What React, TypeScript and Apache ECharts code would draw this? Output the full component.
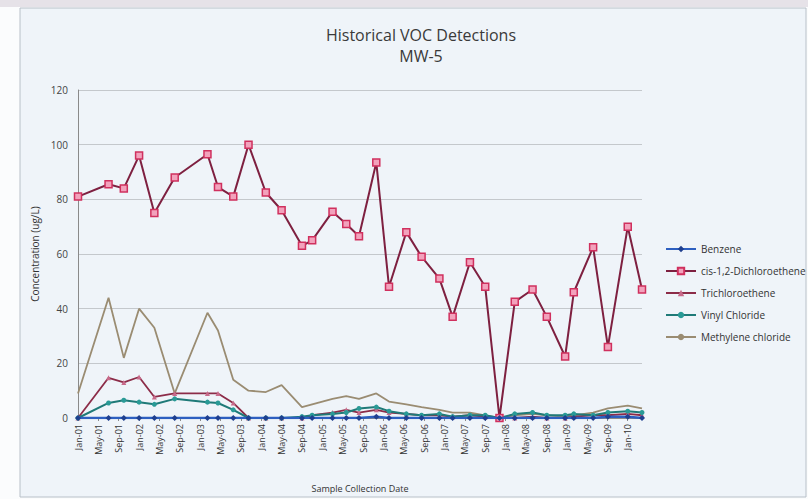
import React, { useEffect, useRef } from "react";
import * as echarts from "echarts";

const sampleDates = [
  "2001-01-15", "2001-07-15", "2001-10-15", "2002-01-15", "2002-04-15",
  "2002-08-15", "2003-02-28", "2003-04-30", "2003-07-30", "2003-10-30",
  "2004-02-12", "2004-05-15", "2004-09-15", "2004-11-15", "2005-03-15",
  "2005-06-06", "2005-08-21", "2005-12-03", "2006-02-18", "2006-05-30",
  "2006-08-30", "2006-12-15", "2007-03-03", "2007-06-15", "2007-09-15",
  "2007-12-09", "2008-03-09", "2008-06-24", "2008-09-18", "2009-01-06",
  "2009-02-27", "2009-06-21", "2009-09-18", "2010-01-15", "2010-04-09",
];

const benzene = [
  0, 0, 0, 0, 0, 0, 0, 0, 0, 0, 0, 0, 0, 0, 0, 0, 0, 0.5, 0, 0,
  0, 0, 0, 0, 0, 0, 0, 0, 0, 0, 0, 0, 0.5, 0.5, 0,
];
const cisDCE = [
  81, 85.5, 84, 96, 75, 88, 96.5, 84.5, 81, 100, 82.5, 76, 63, 65, 75.5,
  71, 66.5, 93.5, 48, 68, 59, 51, 37, 57, 48, 0, 42.5, 47, 37, 22.5,
  46, 62.5, 26, 70, 47,
];
const tce = [
  0, 14.7, 13, 15, 7.7, 9, 9, 9, 5.5, 0, 0, 0, 0, 1, 2, 3, 2, 3, 2, 1.5,
  1, 1, 0.5, 1, 0.5, 0, 0, 0.5, 0, 0, 0.5, 1, 1, 1.5, 1,
];
const vinylChloride = [
  0, 5.5, 6.5, 5.8, 5, 7, 5.8, 5.5, 3, 0, 0, 0, 0.5, 1, 1.5, 2, 3.5, 4, 2.5, 1.5,
  1, 1.5, 0.5, 1, 1, 0, 1.5, 2, 1, 1, 1.5, 1, 2, 2.5, 2,
];
const methyleneChloride = [
  9, 44, 22, 40, 33, 9, 38.5, 32, 14, 10, 9.5, 12, 4, 5, 7, 8, 7, 9, 6, 5,
  4, 3, 2, 2, 1, 0, 1, 1.5, 1, 0.5, 1, 2, 3.5, 4.5, 3.5,
];

const seriesNames = [
  "Benzene",
  "cis-1,2-Dichloroethene",
  "Trichloroethene",
  "Vinyl Chloride",
  "Methylene chloride",
];
const monthNames = ["Jan", "Feb", "Mar", "Apr", "May", "Jun", "Jul", "Aug", "Sep", "Oct", "Nov", "Dec"];
const yMin = 0;
const yMax = 120;
const yStep = 20;
const xLabelStepMonths = 4;

const BASE_YEAR = 2001;
function monthOffset(d: string): number {
  const [y, m, day] = d.split("-").map(Number);
  return (y - BASE_YEAR) * 12 + (m - 1) + (day - 15) / 30;
}
function monthLabel(v: number): string {
  const idx = Math.round(v);
  const y = BASE_YEAR + Math.floor(idx / 12);
  const m = ((idx % 12) + 12) % 12;
  return monthNames[m] + "-" + String(y % 100).padStart(2, "0");
}
function pairs(values: number[]) {
  return values.map((v, i) => [monthOffset(sampleDates[i]), v]);
}

export default function App() {
  const ref = useRef<HTMLDivElement>(null);
  useEffect(() => {
    if (!ref.current) return;
    const chart = echarts.init(ref.current, null, { renderer: "svg" });
    const font = "'Open Sans', 'Liberation Sans', sans-serif";
    const xMin = monthOffset(sampleDates[0]);
    const xMax = monthOffset(sampleDates[sampleDates.length - 1]);
    chart.setOption({
      animation: false,
      backgroundColor: "#fbfcfd",
      textStyle: { fontFamily: font },
      graphic: [
        {
          type: "rect",
          z: -10,
          shape: { x: 20, y: 8, width: 786, height: 489 },
          style: { fill: "#eff4f9", stroke: "#b8c0c8", lineWidth: 1 },
        },
        {
          type: "rect",
          z: -10,
          shape: { x: 0, y: 0, width: 808, height: 7 },
          style: { fill: "#e6e2e8" },
        },
      ],
      title: {
        text: "Historical VOC Detections\nMW-5",
        left: 416,
        top: 19,
        textAlign: "center",
        textStyle: {
          fontFamily: font,
          fontSize: 16,
          fontWeight: "normal",
          color: "#3a3a3a",
          lineHeight: 21,
        },
      },
      legend: {
        orient: "vertical",
        left: 660,
        top: 239,
        itemWidth: 30,
        itemHeight: 8,
        itemGap: 12,
        textStyle: { fontSize: 10, color: "#333", fontFamily: font },
        data: seriesNames,
      },
      grid: { left: 78, right: 166, top: 90, bottom: 81, containLabel: false },
      xAxis: {
        type: "value",
        min: xMin,
        max: xMax,
        interval: xLabelStepMonths,
        name: "Sample Collection Date",
        nameLocation: "middle",
        nameGap: 66,
        nameTextStyle: { fontSize: 9, color: "#333" },
        axisLine: { show: true, onZero: false, lineStyle: { color: "#8a8a8a" } },
        axisTick: { show: true, length: 3, lineStyle: { color: "#8a8a8a" } },
        splitLine: { show: false },
        axisLabel: {
          rotate: 90,
          fontSize: 9,
          color: "#333",
          margin: 6,
          showMaxLabel: false,
          formatter: (v: number) => monthLabel(v),
        },
      },
      yAxis: {
        type: "value",
        min: yMin,
        max: yMax,
        interval: yStep,
        name: "Concentration (ug/L)",
        nameLocation: "middle",
        nameGap: 38,
        nameTextStyle: { fontSize: 10, color: "#333" },
        axisLine: { show: true, lineStyle: { color: "#8a8a8a" } },
        axisTick: { show: false },
        splitLine: { show: true, lineStyle: { color: "#c4c8cc", width: 1 } },
        axisLabel: { fontSize: 10, color: "#444", margin: 10 },
      },
      series: [
        {
          name: seriesNames[0],
          type: "line",
          data: pairs(benzene),
          symbol: "diamond",
          symbolSize: 6,
          lineStyle: { color: "#2d5fc0", width: 2.5 },
          itemStyle: { color: "#1f3f8f" },
          z: 5,
        },
        {
          name: seriesNames[1],
          type: "line",
          data: pairs(cisDCE),
          symbol: "rect",
          symbolSize: 7,
          lineStyle: { color: "#7e2040", width: 2 },
          itemStyle: { color: "#f2a2bc", borderColor: "#d0305e", borderWidth: 1.5 },
          z: 4,
        },
        {
          name: seriesNames[2],
          type: "line",
          data: pairs(tce),
          symbol: "triangle",
          symbolSize: 5,
          lineStyle: { color: "#8c2c48", width: 1.8 },
          itemStyle: { color: "#c86a8a" },
          z: 3,
        },
        {
          name: seriesNames[3],
          type: "line",
          data: pairs(vinylChloride),
          symbol: "circle",
          symbolSize: 5,
          lineStyle: { color: "#1f7a78", width: 2 },
          itemStyle: { color: "#2a9a96" },
          z: 3,
        },
        {
          name: seriesNames[4],
          type: "line",
          data: pairs(methyleneChloride),
          symbol: "none",
          lineStyle: { color: "#9a8c72", width: 1.8 },
          itemStyle: { color: "#9a8c72" },
          z: 2,
        },
      ],
    });
    return () => chart.dispose();
  }, []);
  return (
    <div
      ref={ref}
      style={{ position: "absolute", left: 0, top: 0, width: 808, height: 499 }}
    />
  );
}
